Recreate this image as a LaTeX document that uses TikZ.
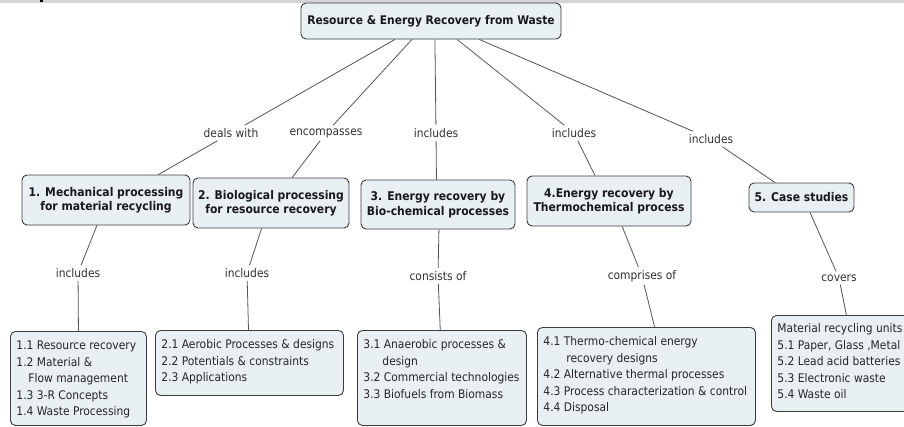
\documentclass[tikz,border=0pt]{standalone}
\usepackage{fontspec}
\setmainfont{DejaVu Sans Condensed}
\usetikzlibrary{calc}
\definecolor{boxfill}{RGB}{233,240,244}
\definecolor{boxline}{RGB}{60,60,60}
\definecolor{connline}{RGB}{85,85,85}
\definecolor{labtext}{RGB}{50,50,50}
\definecolor{bandgray}{RGB}{212,212,212}
\newcommand\titlefont{\fontsize{12}{14.5}\selectfont\bfseries}
\newcommand\rootfont{\fontsize{11.9}{14}\selectfont\bfseries}
\newcommand\listfont{\fontsize{11.9}{16.4}\selectfont}
\newcommand\labfont{\fontsize{11.9}{13}\selectfont}
\newcommand\lboxtext[3]{\parbox[c][#2][t]{#1}{\raggedright\strut #3}}
\tikzset{
  box/.style={draw=boxline, fill=boxfill, rounded corners=5pt, line width=0.9pt},
  ttl/.style={box, font=\titlefont, align=center, inner sep=0pt, text=black!90},
  lst/.style={box, anchor=north west, inner xsep=6pt, inner ysep=7pt, font=\listfont, text=black!85},
  lab/.style={font=\labfont, text=labtext, inner sep=3pt},
  conn/.style={draw=connline, line width=0.8pt},
}
\begin{document}
\begin{tikzpicture}[x=1pt,y=-1pt]
\useasboundingbox (0,0) rectangle (904,426);
\clip (0,0) rectangle (904,426);
\fill[white] (0,0) rectangle (904,426);
\fill[bandgray] (0,0) rectangle (904,2.5);
\fill[black] (39.5,0) rectangle (42.7,1.6);

% root
\node[ttl, font=\rootfont, minimum width=260, minimum height=36] (root) at (431,21) {Resource \& Energy Recovery from Waste};

% level 1
\node[ttl, minimum width=168, minimum height=50] (b1) at (106,200) {1. Mechanical processing\\for material recycling};
\node[ttl, minimum width=156, minimum height=50] (b2) at (271,203) {2. Biological processing\\for resource recovery};
\node[ttl, minimum width=154, minimum height=49] (b3) at (438,204.5) {3. Energy recovery by\\Bio-chemical processes};
\node[ttl, minimum width=164, minimum height=50] (b4) at (609,201) {4.Energy recovery by\\Thermochemical process};
\node[ttl, minimum width=105, minimum height=29] (b5) at (801.5,197.5) {5. Case studies};

% level 2
\node[lst] (c1) at (10,331) {\lboxtext{124pt}{80pt}{1.1 Resource recovery\\1.2 Material \&\\\hspace*{12pt}Flow management\\1.3 3-R Concepts\\1.4 Waste Processing}};
\node[lst] (c2) at (155,330) {\lboxtext{176pt}{51pt}{2.1 Aerobic Processes \& designs\\2.2 Potentials \& constraints\\2.3 Applications}};
\node[lst] (c3) at (357,330) {\lboxtext{157pt}{81pt}{3.1 Anaerobic processes \&\\\hspace*{19pt}design\\3.2 Commercial technologies\\3.3 Biofuels from Biomass}};
\node[lst] (c4) at (537,327) {\lboxtext{206pt}{84pt}{4.1 Thermo-chemical energy\\\hspace*{23pt}recovery designs\\4.2 Alternative thermal processes\\4.3 Process characterization \& control\\4.4 Disposal}};
\node[lst, inner ysep=6pt] (c5) at (771,315) {\lboxtext{140pt}{84pt}{Material recycling units\\5.1 Paper, Glass ,Metal\\5.2 Lead acid batteries\\5.3 Electronic waste\\5.4 Waste oil}};

% labels
\node[lab] (l1) at (231,133) {deals with};
\node[lab] (l2) at (326,133) {encompasses};
\node[lab] (l3) at (436,133) {includes};
\node[lab] (l4) at (574,133) {includes};
\node[lab] (l5) at (711,139) {includes};
\node[lab] (m1) at (78,273) {includes};
\node[lab] (m2) at (247,273) {includes};
\node[lab] (m3) at (438,276) {consists of};
\node[lab] (m4) at (642,276) {comprises of};
\node[lab] (m5) at (839,278) {covers};

% connectors root -> level 1
\draw[conn] ($(root.south west)!0.3615!(root.south east)$) -- (l1);
\draw[conn] (l1) -- ($(b1.north west)!0.81!(b1.north east)$);
\draw[conn] ($(root.south west)!0.427!(root.south east)$) -- (l2);
\draw[conn] (l2) -- ($(b2.north west)!0.635!(b2.north east)$);
\draw[conn] ($(root.south west)!0.515!(root.south east)$) -- (l3);
\draw[conn] (l3) -- ($(b3.north west)!0.49!(b3.north east)$);
\draw[conn] ($(root.south west)!0.6!(root.south east)$) -- (l4);
\draw[conn] (l4) -- ($(b4.north west)!0.415!(b4.north east)$);
\draw[conn] ($(root.south west)!0.685!(root.south east)$) -- (l5);
\draw[conn] (l5) -- ($(b5.north west)!0.25!(b5.north east)$);

% connectors level 1 -> level 2
\draw[conn] ($(b1.south west)!0.446!(b1.south east)$) -- (m1);
\draw[conn] (m1) -- ($(c1.north west)!0.5!(c1.north east)$);
\draw[conn] ($(b2.south west)!0.44!(b2.south east)$) -- (m2);
\draw[conn] (m2) -- ($(c2.north west)!0.495!(c2.north east)$);
\draw[conn] ($(b3.south west)!0.506!(b3.south east)$) -- (m3);
\draw[conn] (m3) -- ($(c3.north west)!0.49!(c3.north east)$);
\draw[conn] ($(b4.south west)!0.58!(b4.south east)$) -- (m4);
\draw[conn] (m4) -- ($(c4.north west)!0.537!(c4.north east)$);
\draw[conn] ($(b5.south west)!0.58!(b5.south east)$) -- (m5);
\draw[conn] (m5) -- ($(c5.north west)!0.493!(c5.north east)$);
\end{tikzpicture}
\end{document}
